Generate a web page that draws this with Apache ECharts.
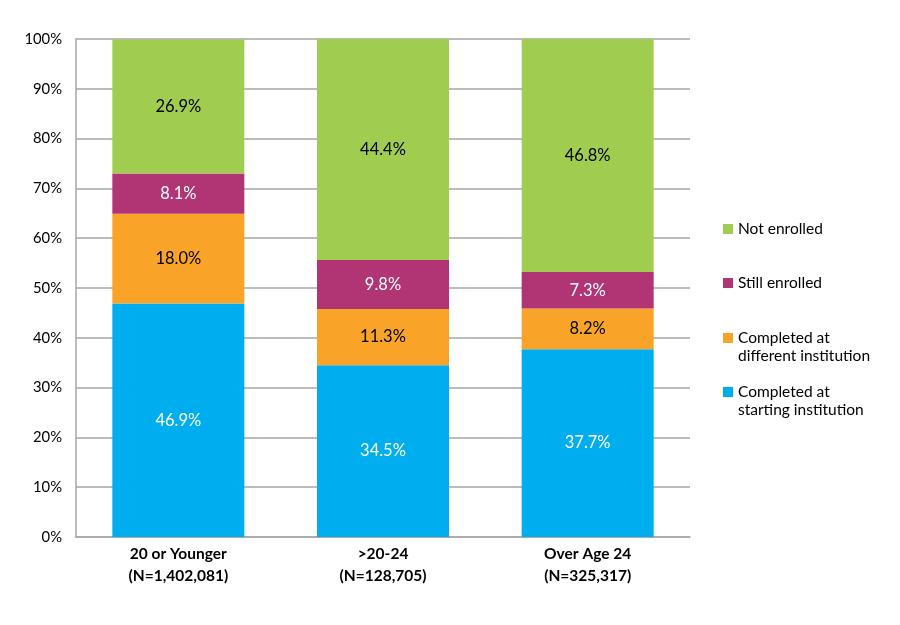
<!DOCTYPE html>
<html>
<head>
<meta charset="utf-8">
<script src="https://cdn.jsdelivr.net/npm/echarts@6/dist/echarts.min.js"></script>
<style>
  html, body { margin: 0; padding: 0; background: #fff; }
  #chart { width: 900px; height: 625px; }
</style>
</head>
<body>
<div id="chart"></div>
<script>
// 数据
var categories = ['20 or Younger\n(N=1,402,081)', '>20-24\n(N=128,705)', 'Over Age 24\n(N=325,317)'];
var startingInst = [46.9, 34.5, 37.7];
var differentInst = [18.0, 11.3, 8.2];
var stillEnrolled = [8.1, 9.8, 7.3];
var notEnrolled = [26.9, 44.4, 46.8];
var yTicks = [0, 100, 10]; // min, max, interval

var FONT = 'Lato';
var gridColor = '#a6a6a6';

var chart = echarts.init(document.getElementById('chart'));

function pct(p) { return p.value.toFixed(1) + '%'; }

function barSeries(name, data, color, labelColor) {
    return {
        name: name,
        type: 'bar',
        stack: 'total',
        data: data,
        barWidth: 132,
        itemStyle: { color: color },
        label: {
            show: true,
            position: 'inside',
            formatter: pct,
            color: labelColor,
            fontFamily: FONT,
            fontSize: 16.5
        }
    };
}

// 图例：每项单独一个，方块对齐首行
var legendText = { fontFamily: FONT, fontSize: 15.5, color: '#000', lineHeight: 18 };
function legendItem(name, top, twoLine) {
    return {
        left: 718,
        top: top,
        orient: 'vertical',
        data: [name],
        itemWidth: 10,
        itemHeight: twoLine ? 28 : 10,
        itemGap: 0,
        icon: twoLine ? 'path://M0,0h10v10h-10z M0,27.99h0.01v0.01h-0.01z' : 'rect',
        textStyle: legendText,
        selectedMode: false
    };
}

var option = {
    backgroundColor: '#ffffff',
    animation: false,
    legend: [
        legendItem('Not enrolled', 215, false),
        legendItem('Still enrolled', 269, false),
        legendItem('Completed at\ndifferent institution', 324, true),
        legendItem('Completed at\nstarting institution', 378, true)
    ],
    grid: { left: 76, right: 210, top: 39, bottom: 88 },
    xAxis: {
        type: 'category',
        data: categories,
        axisLine: { lineStyle: { color: gridColor, width: 1.5 } },
        axisTick: { show: false },
        axisLabel: {
            fontFamily: FONT,
            fontSize: 15.5,
            fontWeight: 'bold',
            color: '#000',
            lineHeight: 22,
            margin: 6
        }
    },
    yAxis: {
        type: 'value',
        min: yTicks[0],
        max: yTicks[1],
        interval: yTicks[2],
        axisLine: { show: true, lineStyle: { color: gridColor, width: 1.5 } },
        axisTick: { show: false },
        splitLine: { lineStyle: { color: gridColor, width: 1.5 } },
        axisLabel: {
            formatter: '{value}%',
            fontFamily: FONT,
            fontSize: 14.8,
            color: '#000',
            margin: 14
        }
    },
    series: [
        barSeries('Completed at\nstarting institution', startingInst, '#00aeef', '#ffffff'),
        barSeries('Completed at\ndifferent institution', differentInst, '#f9a429', '#000000'),
        barSeries('Still enrolled', stillEnrolled, '#b13574', '#ffffff'),
        barSeries('Not enrolled', notEnrolled, '#a0cc50', '#000000')
    ]
};

chart.setOption(option);
</script>
</body>
</html>
